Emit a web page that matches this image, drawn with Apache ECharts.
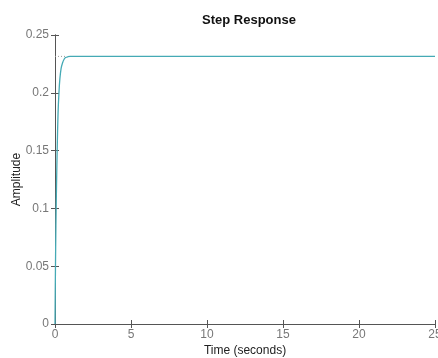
<!DOCTYPE html>
<html>
<head>
<meta charset="utf-8">
<script src="https://cdn.jsdelivr.net/npm/echarts@6/dist/echarts.min.js"></script>
<style>
  html, body { margin: 0; padding: 0; background: #fff; }
  #chart { width: 438px; height: 358px; }
</style>
</head>
<body>
<div id="chart"></div>
<script>
// step response
const timeSec = [0, 0.03, 0.06, 0.1, 0.15, 0.2, 0.26, 0.32, 0.4, 0.5, 0.6, 0.7, 0.85, 1.0, 1.5, 3, 10, 25];
const amplitude = [0, 0.048, 0.085, 0.12, 0.155, 0.182, 0.2, 0.212, 0.221, 0.226, 0.229, 0.2305, 0.2312, 0.2315, 0.2315, 0.2315, 0.2315, 0.2315];
// dotted steady-state marker at the left
const steadyTime = [0, 0.7];
const steadyValue = [0.2315, 0.2315];
const xTicks = [0, 5, 10, 15, 20, 25];
const yTicks = [0, 0.05, 0.1, 0.15, 0.2, 0.25];

const chart = echarts.init(document.getElementById('chart'));
const font = 'Liberation Sans, Arial, sans-serif';
const axisLine = { show: true, lineStyle: { color: '#555', width: 1 } };
const tick = { show: true, inside: true, length: 4, lineStyle: { color: '#555' } };

const respData = timeSec.map((t, i) => [t, amplitude[i]]);
const steadyData = steadyTime.map((t, i) => [t, steadyValue[i]]);

const option = {
  backgroundColor: '#fff',
  animation: false,
  title: {
    text: 'Step Response',
    left: 244, top: 9, textAlign: 'center',
    textStyle: { fontFamily: font, fontSize: 13, fontWeight: 'bold', color: '#111' }
  },
  grid: { left: 55, right: 3, top: 35, bottom: 34, containLabel: false, outerBoundsMode: 'none' },
  xAxis: [{
    type: 'value', min: 0, max: 25, interval: 5,
    name: 'Time (seconds)', nameLocation: 'middle', nameGap: 21, nameMoveOverlap: false,
    nameTextStyle: { fontFamily: font, fontSize: 12, color: '#222' },
    axisLine: axisLine, axisTick: tick,
    axisLabel: { fontFamily: font, fontSize: 12, color: '#777', margin: 5 },
    splitLine: { show: false }
  }, {
    type: 'value', position: 'top', min: 0, max: 25, interval: 5,
    axisLine: axisLine, axisTick: tick,
    axisLabel: { show: false },
    splitLine: { show: false }
  }],
  yAxis: [{
    type: 'value', min: 0, max: 0.25, interval: 0.05,
    name: 'Amplitude', nameLocation: 'middle', nameGap: 32, nameRotate: 90, nameMoveOverlap: false,
    nameTextStyle: { fontFamily: font, fontSize: 12, color: '#222' },
    axisLine: axisLine, axisTick: tick,
    axisLabel: { fontFamily: font, fontSize: 12, color: '#777', margin: 6 },
    splitLine: { show: false }
  }, {
    type: 'value', position: 'right', min: 0, max: 0.25, interval: 0.05,
    axisLine: axisLine, axisTick: tick,
    axisLabel: { show: false },
    splitLine: { show: false }
  }],
  series: [{
    type: 'line', data: steadyData, showSymbol: false,
    lineStyle: { color: '#999', width: 1, type: [1, 2] }
  }, {
    type: 'line', data: respData, showSymbol: false, smooth: 0.3,
    lineStyle: { color: '#45aab5', width: 1.3 }
  }]
};
chart.setOption(option);
</script>
</body>
</html>
